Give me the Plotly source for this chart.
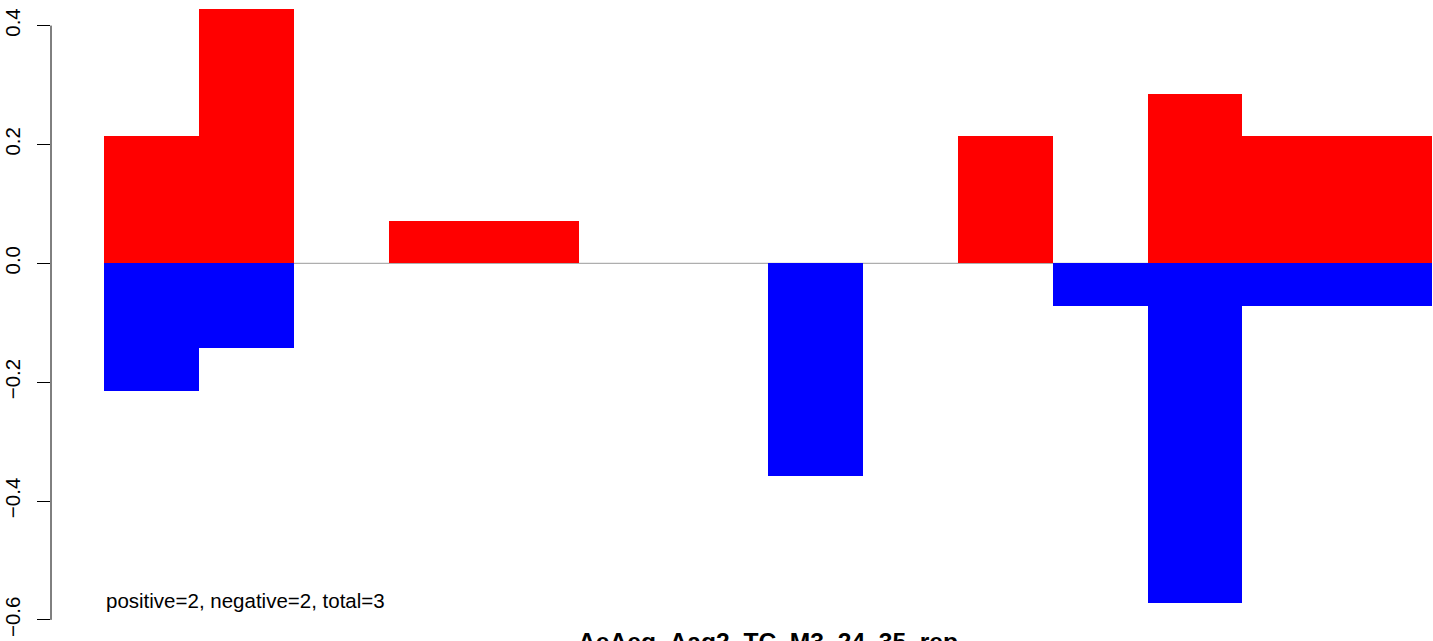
import plotly.graph_objects as go

# 14 bins, values (multiples of 1/14)
bins = list(range(14))
pos_vals = [3/14, 6/14, 0, 1/14, 1/14, 0, 0, 0, 0, 3/14, 0, 4/14, 3/14, 3/14]
neg_vals = [-3/14, -2/14, 0, 0, 0, 0, 0, -5/14, 0, 0, -1/14, -8/14, -1/14, -1/14]
y_ticks = [-0.6, -0.4, -0.2, 0.0, 0.2, 0.4]
y_tick_text = ["\u22120.6", "\u22120.4", "\u22120.2", "0.0", "0.2", "0.4"]
title_text = "AeAeg_Aag2_TC_M3_24_35_rep"
note_text = "positive=2, negative=2, total=3"

FONT = "Liberation Sans, Arial, Helvetica, sans-serif"
W, H = 1433, 641
left = 50.5
x0_px = 104.0
px_per_unit_x = (1432.0 - 104.0) / len(bins)
zero_px = 263.3
px_per_unit_y = 594.3

xr = [-(x0_px - left) / px_per_unit_x, (W - x0_px) / px_per_unit_x]
yr = [-(H - zero_px) / px_per_unit_y, zero_px / px_per_unit_y]

centers = [b + 0.5 for b in bins]

fig = go.Figure()
fig.add_trace(go.Bar(x=centers, y=pos_vals, width=1, marker=dict(color="#FF0000", line=dict(width=0)),
                     showlegend=False, hoverinfo="skip"))
fig.add_trace(go.Bar(x=centers, y=neg_vals, width=1, marker=dict(color="#0000FF", line=dict(width=0)),
                     showlegend=False, hoverinfo="skip"))

# zero reference line across the bars
fig.add_shape(type="line", xref="x", yref="y", x0=0, x1=len(bins), y0=0, y1=0,
              line=dict(color="#9a9a9a", width=1), layer="below")
# R-style axis line spanning only the tick range
fig.add_shape(type="line", xref="paper", yref="y", x0=0, x1=0, y0=min(y_ticks), y1=max(y_ticks),
              line=dict(color="black", width=1))

fig.add_annotation(x=0, y=-0.567, xref="x", yref="y", text=note_text, showarrow=False,
                   xanchor="left", yanchor="middle", font=dict(family=FONT, size=20.5, color="black"))
fig.add_annotation(x=len(bins) / 2, y=(zero_px - 626) / px_per_unit_y, xref="x", yref="y",
                   text="<b>" + title_text + "</b>", showarrow=False,
                   xanchor="center", yanchor="top", font=dict(family=FONT, size=24.6, color="black"))

fig.update_layout(
    width=W, height=H,
    margin=dict(l=left, r=0, t=0, b=0, autoexpand=False),
    paper_bgcolor="white", plot_bgcolor="white",
    barmode="overlay", bargap=0,
    xaxis=dict(range=xr, visible=False, fixedrange=True, automargin=False),
    yaxis=dict(range=yr, tickvals=y_ticks, ticktext=y_tick_text, tickangle=-90,
               ticks="outside", ticklen=13, tickwidth=1, tickcolor="black",
               showgrid=False, zeroline=False, showline=False, automargin=False,
               tickfont=dict(family=FONT, size=20.5, color="black"), ticklabelstandoff=9),
)

fig.write_html(
    "out.html",
    config={"displayModeBar": False},
    post_script="document.body.style.margin='0';document.body.style.overflow='hidden';",
)
